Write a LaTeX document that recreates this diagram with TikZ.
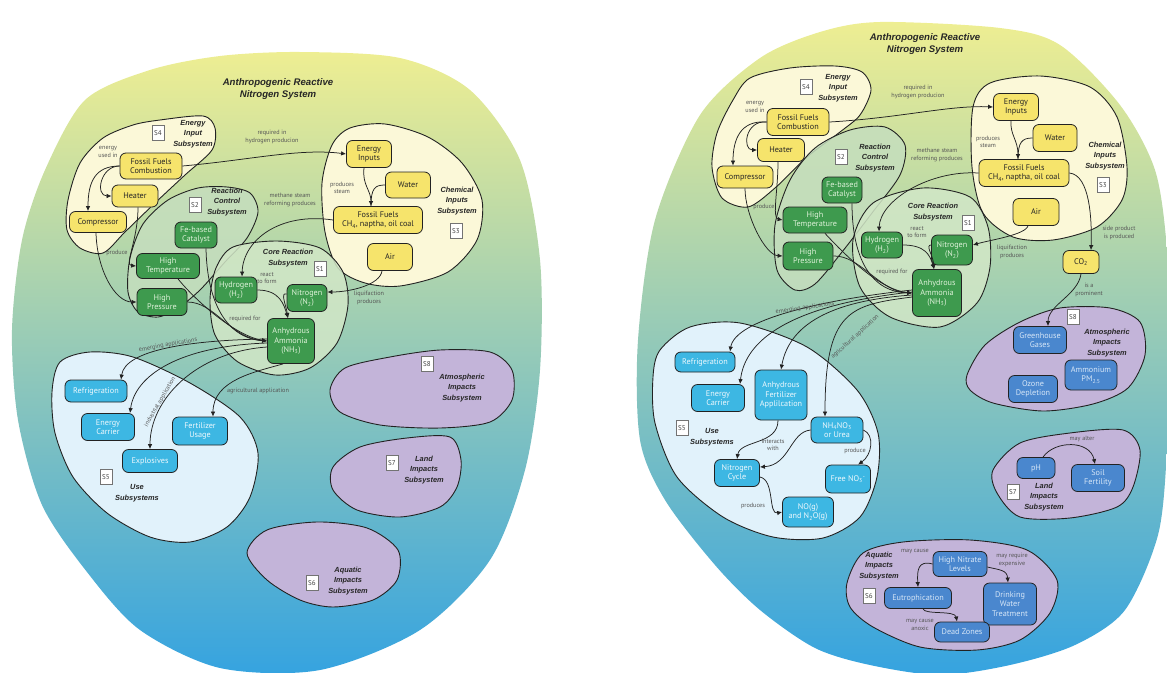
\documentclass[tikz,border=0pt]{standalone}
\usepackage{fontspec}
\setmainfont{PT Sans}
\newfontfamily\arialbi{Liberation Sans}
\usetikzlibrary{arrows.meta}

\definecolor{skytop}{HTML}{EEEE92}
\definecolor{skymid}{HTML}{A0C9B6}
\definecolor{skybot}{HTML}{35A3E0}
\definecolor{cream}{HTML}{FBF8D8}
\definecolor{ctlgreen}{HTML}{C5DEBE}
\definecolor{coregreen}{HTML}{D2E7C7}
\definecolor{usefill}{HTML}{E1F2FB}
\definecolor{impact}{HTML}{C3B4D9}
\definecolor{ynode}{HTML}{F6E46C}
\definecolor{gnode}{HTML}{3E9A4E}
\definecolor{gtext}{HTML}{DDF1D8}
\definecolor{cnode}{HTML}{3DB7E3}
\definecolor{ctext}{HTML}{EEF8FD}
\definecolor{bnode}{HTML}{4A87CE}
\definecolor{btext}{HTML}{D6E6F7}
\definecolor{inkline}{HTML}{222222}
\definecolor{labelgray}{HTML}{555555}

\newcommand\ndfont{\fontsize{8.2}{9.4}\selectfont}
\newcommand\lbfont{\fontsize{6.2}{7.2}\selectfont}
\newcommand\sbfont{\arialbi\bfseries\itshape\fontsize{7.4}{10.5}\selectfont}
\newcommand\ttlfont{\arialbi\bfseries\itshape\fontsize{9.6}{12.5}\selectfont}
\newcommand\sxfont{\fontsize{7}{8}\selectfont}

\tikzset{
  box/.style={draw=inkline, line width=0.8pt, rounded corners=6pt, align=center, font=\ndfont, inner sep=1.5pt},
  ybox/.style={box, fill=ynode, text=black!85},
  gbox/.style={box, fill=gnode, text=gtext},
  cbox/.style={box, fill=cnode, text=ctext},
  bbox/.style={box, fill=bnode, text=btext},
  sub/.style={font=\sbfont, align=center, text=black!85},
  lbl/.style={font=\lbfont, text=labelgray, align=center, inner sep=0.5pt},
  sbox/.style={draw=black!55, fill=white, font=\sxfont, inner sep=1pt, minimum width=12pt, minimum height=15pt, text=black!75},
  arr/.style={-{Latex[length=5pt,width=4.5pt]}, line width=0.75pt, draw=inkline},
  ln/.style={line width=0.75pt, draw=inkline},
  blob/.style={draw=inkline, line width=0.9pt},
  ttl/.style={font=\ttlfont, align=center, text=black!85},
}

\begin{document}
\begin{tikzpicture}[x=1pt,y=-1pt]
\useasboundingbox (0,0) rectangle (1167,672);

% ---------- outer system shapes ----------
\shade[top color=skytop, middle color=skymid, bottom color=skybot]
  plot[smooth cycle] coordinates {(300,52) (400,58) (470,90) (520,160) (540,260) (540,370) (525,470) (490,560) (420,630) (320,670) (220,668) (140,630) (87,572) (42,505) (18,420) (12,330) (22,240) (45,170) (85,100) (150,70) (220,56)};
\shade[top color=skytop, middle color=skymid, bottom color=skybot]
  plot[smooth cycle] coordinates {(880,22) (1000,28) (1060,45) (1120,105) (1155,170) (1167,250) (1170,350) (1167,450) (1158,535) (1125,610) (1075,645) (1010,665) (940,675) (870,665) (815,648) (760,610) (715,565) (665,500) (640,440) (638,340) (655,220) (700,115) (760,58) (820,32)};

\node[ttl] (titleL) at (278,89) {Anthropogenic Reactive\\Nitrogen System};
\node[ttl] (titleR) at (925,44) {Anthropogenic Reactive\\Nitrogen System};

% ---------- left: subsystem regions ----------
\draw[blob, fill=cream] plot[smooth cycle] coordinates {(160,120) (203,116) (215,128) (212,150) (185,175) (155,203) (125,232) (103,253) (80,248) (67,230) (68,200) (80,163) (103,138) (133,125)};
\draw[blob, fill=ctlgreen, fill opacity=0.85] plot[smooth cycle] coordinates {(227,187) (250,193) (258,212) (247,238) (225,262) (200,290) (178,308) (158,317) (138,312) (128,292) (130,258) (143,224) (168,200) (198,188)};
\draw[blob, fill=cream] plot[smooth cycle] coordinates {(350,128) (385,124) (428,137) (462,163) (482,200) (477,240) (448,272) (400,286) (365,283) (338,268) (325,232) (322,183) (332,145)};
\draw[blob, fill=coregreen, fill opacity=0.85] plot[smooth cycle] coordinates {(233,247) (277,241) (320,248) (343,272) (348,305) (337,343) (310,368) (275,375) (238,362) (215,335) (210,300) (216,268)};
\draw[blob, fill=usefill] plot[smooth cycle] coordinates {(60,362) (90,352) (133,357) (190,383) (240,417) (258,453) (250,497) (227,527) (190,542) (150,537) (107,513) (73,477) (55,433) (52,392)};
\draw[blob, fill=impact] plot[smooth cycle] coordinates {(330,390) (345,368) (390,357) (440,350) (490,352) (512,370) (512,400) (490,422) (440,428) (380,425) (340,412)};
\draw[blob, fill=impact] plot[smooth cycle] coordinates {(333,467) (360,447) (407,438) (450,437) (461,460) (457,487) (440,507) (400,517) (357,510) (333,490)};
\draw[blob, fill=impact] plot[smooth cycle] coordinates {(247,553) (267,530) (317,522) (367,528) (398,550) (397,580) (373,600) (333,607) (300,600) (267,580)};

\node[sub] (eisL) at (193,134) {Energy\\Input\\Subsystem};
\node[sbox] (s4L) at (158,133) {S4};
\node[sub] (rcsL) at (227,202) {Reaction\\Control\\Subsystem};
\node[sbox] (s2L) at (195,205) {S2};
\node[sub] (cisL) at (457,201) {Chemical\\Inputs\\Subsystem};
\node[sbox] (s3L) at (456,231) {S3};
\node[sub] (crsL) at (288,258) {Core Reaction\\Subsystem};
\node[sbox] (s1L) at (320,269) {S1};
\node[sub] (usL) at (137,493) {Use\\Subsystems};
\node[sbox] (s5L) at (106,477) {S5};
\node[sbox] (s8L) at (427,364) {S8};
\node[sub] (aisL) at (462,388) {Atmospheric\\Impacts\\Subsystem};
\node[sbox] (s7L) at (392,463) {S7};
\node[sub] (lisL) at (424,470) {Land\\Impacts\\Subsystem};
\node[sbox] (s6L) at (312,583) {S6};
\node[sub] (qisL) at (348,581) {Aquatic\\Impacts\\Subsystem};

% ---------- left: components ----------
\node[ybox, minimum width=62pt, minimum height=26pt] (ffcL) at (151,166) {Fossil Fuels\\Combustion};
\node[ybox, minimum width=46pt, minimum height=22pt] (heatL) at (135,196) {Heater};
\node[ybox, minimum width=57pt, minimum height=21pt] (compL) at (98,222) {Compressor};
\node[gbox, minimum width=42pt, minimum height=26pt] (catL) at (196,235) {Fe-based\\Catalyst};
\node[gbox, minimum width=63pt, minimum height=25pt] (htL) at (168,266) {High\\Temperature};
\node[gbox, minimum width=50pt, minimum height=27pt] (hpL) at (162,302) {High\\Pressure};
\node[ybox, minimum width=45pt, minimum height=27pt] (eiL) at (369,154) {Energy\\Inputs};
\node[ybox, minimum width=45pt, minimum height=26pt] (waterL) at (408,185) {Water};
\node[ybox, minimum width=89pt, minimum height=27pt] (ffL) at (378,220) {Fossil Fuels\\CH\textsubscript{4}, naptha, oil coal};
\node[ybox, minimum width=45pt, minimum height=27pt] (airL) at (390,257) {Air};
\node[gbox, minimum width=42pt, minimum height=26pt] (h2L) at (236,290) {Hydrogen\\(H\textsubscript{2})};
\node[gbox, minimum width=40pt, minimum height=27pt] (n2L) at (307,298) {Nitrogen\\(N\textsubscript{2})};
\node[gbox, minimum width=47pt, minimum height=45pt] (nh3L) at (291,341) {Anhydrous\\Ammonia\\(NH\textsubscript{3})};
\node[cbox, minimum width=62pt, minimum height=22pt] (refL) at (96,391) {Refrigeration};
\node[cbox, minimum width=53pt, minimum height=27pt] (ecL) at (108,427) {Energy\\Carrier};
\node[cbox, minimum width=55pt, minimum height=28pt] (fuL) at (200,431) {Fertilizer\\Usage};
\node[cbox, minimum width=55pt, minimum height=23pt] (exL) at (150,461) {Explosives};

% ---------- left: relations ----------
\draw[arr] (ffcL.west) .. controls (100,166) and (95,196) .. (heatL.west);
\draw[arr] (ffcL.west) .. controls (95,166) and (88,182) .. ([xshift=-10pt]compL.north);
\draw[arr] ([xshift=3pt]heatL.south) .. controls (138,240) and (124,265) .. (htL.west);
\draw[arr] ([xshift=-2pt]compL.south) .. controls (97,270) and (115,302) .. (hpL.west);
\draw[arr] (ffcL.east) .. controls (250,160) and (300,148) .. (eiL.west);
\draw[arr] ([xshift=-5pt]eiL.south) .. controls (362,185) and (371,190) .. ([xshift=-7pt]ffL.north);
\draw[ln] (waterL.west) .. controls (375,185) and (371,188) .. ([xshift=-7pt]ffL.north);
\draw[arr] (ffL.west) .. controls (280,212) and (243,240) .. ([xshift=6pt]h2L.north);
\draw[arr] ([xshift=-8pt]airL.south) .. controls (380,285) and (350,292) .. ([yshift=6pt]n2L.east);
\draw[arr] (h2L.east) .. controls (280,290) and (284,305) .. ([xshift=-3pt]nh3L.north);
\draw[arr] ([yshift=4pt]n2L.west) .. controls (280,292) and (286,305) .. ([xshift=-3pt]nh3L.north);
\draw[arr] ([xshift=10pt]htL.south) .. controls (195,300) and (235,336) .. (nh3L.west);
\draw[arr] (hpL.east) .. controls (215,302) and (230,338) .. (nh3L.west);
\draw[arr] ([xshift=10pt]catL.south) .. controls (207,300) and (225,338) .. (nh3L.west);
\draw[arr] ([yshift=2pt]nh3L.west) .. controls (190,340) and (125,350) .. ([xshift=25pt]refL.north);
\draw[arr] ([yshift=-2pt]nh3L.west) .. controls (180,346) and (135,375) .. ([xshift=22pt]ecL.north);
\draw[arr] ([yshift=-6pt]nh3L.west) .. controls (195,352) and (150,400) .. (exL.north);
\draw[arr] ([xshift=-8pt]nh3L.south) .. controls (255,372) and (213,380) .. ([xshift=13pt]fuL.north);

\node[lbl] (l1L) at (108,152) {energy\\used in};
\node[lbl] (l2L) at (117,253) {produce};
\node[lbl] (l3L) at (272,137) {required in\\hydrogen producion};
\node[lbl] (l4L) at (342,188) {produces\\steam};
\node[lbl] (l5L) at (290,200) {methane steam\\reforming produces};
\node[lbl] (l6L) at (369,298) {liquifaction\\produces};
\node[lbl] (l7L) at (267,278) {react\\to form};
\node[lbl] (l8L) at (245,319) {required for};
\node[lbl, rotate=10] (l9L) at (168,345) {emerging applications};
\node[lbl, rotate=60] (l10L) at (160,402) {industrial application};
\node[lbl] (l11L) at (258,391) {agricultural application};

% ---------- right: subsystem regions ----------
\draw[blob, fill=cream] plot[smooth cycle] coordinates {(750,78) (790,68) (835,66) (862,72) (871,90) (860,115) (840,132) (807,157) (775,188) (748,207) (722,198) (712,167) (717,133) (733,100)};
\draw[blob, fill=ctlgreen, fill opacity=0.85] plot[smooth cycle] coordinates {(850,130) (885,127) (905,145) (900,175) (872,213) (842,252) (815,284) (795,290) (777,270) (775,225) (790,180) (815,148)};
\draw[blob, fill=cream] plot[smooth cycle] coordinates {(973,107) (990,83) (1040,76) (1090,87) (1117,117) (1127,167) (1122,200) (1097,227) (1053,240) (1013,237) (983,213) (972,167)};
\draw[blob, fill=coregreen, fill opacity=0.85] plot[smooth cycle] coordinates {(873,203) (923,188) (970,197) (988,227) (990,267) (977,303) (940,327) (890,317) (860,287) (853,240)};
\draw[blob, fill=usefill] plot[smooth cycle] coordinates {(660,350) (690,327) (740,323) (807,347) (857,390) (878,433) (877,477) (860,517) (823,538) (773,537) (723,517) (677,477) (655,423) (653,377)};
\draw[blob, fill=impact] plot[smooth cycle] coordinates {(967,375) (985,345) (1020,322) (1060,308) (1110,308) (1140,322) (1145,355) (1128,388) (1093,404) (1043,411) (993,403) (970,390)};
\draw[blob, fill=impact] plot[smooth cycle] coordinates {(993,470) (1020,443) (1070,433) (1123,430) (1140,450) (1133,487) (1117,507) (1070,518) (1020,517) (997,493)};
\draw[blob, fill=impact] plot[smooth cycle] coordinates {(847,583) (863,553) (903,542) (970,540) (1027,550) (1057,580) (1050,613) (1020,640) (977,650) (920,647) (873,627) (850,607)};

\node[sub] (eisR) at (838,88) {Energy\\Input\\Subsystem};
\node[sbox] (s4R) at (806,87) {S4};
\node[sub] (rcsR) at (875,158) {Reaction\\Control\\Subsystem};
\node[sbox] (s2R) at (841,157) {S2};
\node[sub] (cisR) at (1105,156) {Chemical\\Inputs\\Subsystem};
\node[sbox] (s3R) at (1103,185) {S3};
\node[sub] (crsR) at (933,212) {Core Reaction\\Subsystem};
\node[sbox] (s1R) at (968,223) {S1};
\node[sub] (usR) at (712,437) {Use\\Subsystems};
\node[sbox] (s5R) at (682,428) {S5};
\node[sbox] (s8R) at (1073,317) {S8};
\node[sub] (aisR) at (1107,343) {Atmospheric\\Impacts\\Subsystem};
\node[sbox] (s7R) at (1013,492) {S7};
\node[sub] (lisR) at (1044,497) {Land\\Impacts\\Subsystem};
\node[sbox] (s6R) at (869,596) {S6};
\node[sub] (qisR) at (879,566) {Aquatic\\Impacts\\Subsystem};

% ---------- right: components ----------
\node[ybox, minimum width=62pt, minimum height=27pt] (ffcR) at (798,122) {Fossil Fuels\\Combustion};
\node[ybox, minimum width=47pt, minimum height=23pt] (heatR) at (781,150) {Heater};
\node[ybox, minimum width=56pt, minimum height=22pt] (compR) at (745,177) {Compressor};
\node[gbox, minimum width=40pt, minimum height=26pt] (catR) at (842,190) {Fe-based\\Catalyst};
\node[gbox, minimum width=64pt, minimum height=26pt] (htR) at (815,220) {High\\Temperature};
\node[gbox, minimum width=50pt, minimum height=28pt] (hpR) at (808,256) {High\\Pressure};
\node[ybox, minimum width=45pt, minimum height=27pt] (eiR) at (1016,107) {Energy\\Inputs};
\node[ybox, minimum width=44pt, minimum height=27pt] (waterR) at (1055,138) {Water};
\node[ybox, minimum width=90pt, minimum height=27pt] (ffR) at (1024,173) {Fossil Fuels\\CH\textsubscript{4}, naptha, oil coal};
\node[ybox, minimum width=46pt, minimum height=27pt] (airR) at (1036,212) {Air};
\node[gbox, minimum width=41pt, minimum height=26pt] (h2R) at (882,245) {Hydrogen\\(H\textsubscript{2})};
\node[gbox, minimum width=41pt, minimum height=30pt] (n2R) at (952,250) {Nitrogen\\(N\textsubscript{2})};
\node[gbox, minimum width=49pt, minimum height=47pt] (nh3R) at (937,293) {Anhydrous\\Ammonia\\(NH\textsubscript{3})};
\node[ybox, minimum width=36pt, minimum height=23pt] (co2R) at (1081,262) {CO\textsubscript{2}};
\node[bbox, minimum width=53pt, minimum height=27pt] (ghgR) at (1040,340) {Greenhouse\\Gases};
\node[bbox, minimum width=52pt, minimum height=30pt] (pmR) at (1091,375) {Ammonium\\PM\textsubscript{2.5}};
\node[bbox, minimum width=49pt, minimum height=27pt] (ozR) at (1033,389) {Ozone\\Depletion};
\node[bbox, minimum width=38pt, minimum height=21pt] (phR) at (1036,468) {pH};
\node[bbox, minimum width=53pt, minimum height=27pt] (soilR) at (1098,478) {Soil\\Fertility};
\node[bbox, minimum width=54pt, minimum height=25pt] (hnR) at (960,564) {High Nitrate\\Levels};
\node[bbox, minimum width=67pt, minimum height=21pt] (eutR) at (918,598) {Eutrophication};
\node[bbox, minimum width=53pt, minimum height=42pt] (dwR) at (1010,604) {Drinking\\Water\\Treatment};
\node[bbox, minimum width=55pt, minimum height=20pt] (dzR) at (962,632) {Dead Zones};
\node[cbox, minimum width=60pt, minimum height=20pt] (refR) at (705,362) {Refrigeration};
\node[cbox, minimum width=53pt, minimum height=27pt] (ecR) at (718,398) {Energy\\Carrier};
\node[cbox, minimum width=52pt, minimum height=50pt] (afaR) at (781,395) {Anhydrous\\Fertilizer\\Applilcation};
\node[cbox, minimum width=52pt, minimum height=26pt] (nhnoR) at (837,430) {NH\textsubscript{4}NO\textsubscript{3}\\or Urea};
\node[cbox, minimum width=45pt, minimum height=27pt] (ncR) at (737,473) {Nitrogen\\Cycle};
\node[cbox, minimum width=45pt, minimum height=28pt] (freeR) at (848,479) {Free NO\textsubscript{3}\textsuperscript{-}};
\node[cbox, minimum width=51pt, minimum height=30pt] (noR) at (808,512) {NO(g)\\and N\textsubscript{2}O(g)};

% ---------- right: relations ----------
\draw[arr] (ffcR.west) .. controls (745,120) and (742,150) .. (heatR.west);
\draw[arr] (ffcR.west) .. controls (740,120) and (733,140) .. ([xshift=-12pt]compR.north);
\draw[arr] ([xshift=-3pt]heatR.south) .. controls (778,190) and (772,218) .. (htR.west);
\draw[arr] (compR.south) .. controls (745,215) and (765,255) .. (hpR.west);
\draw[arr] (ffcR.east) .. controls (900,118) and (950,105) .. (eiR.west);
\draw[arr] ([xshift=-5pt]eiR.south) .. controls (1010,135) and (1018,140) .. ([xshift=-6pt]ffR.north);
\draw[ln] (waterR.west) .. controls (1022,138) and (1018,142) .. ([xshift=-6pt]ffR.north);
\draw[arr] (ffR.west) .. controls (930,170) and (880,200) .. ([xshift=-3pt]h2R.north);
\draw[arr] (ffR.east) .. controls (1090,175) and (1092,220) .. ([xshift=10pt]co2R.north);
\draw[arr] ([xshift=-8pt]airR.south) .. controls (1025,235) and (990,240) .. ([yshift=5pt]n2R.east);
\draw[arr] (h2R.east) .. controls (925,245) and (930,255) .. ([xshift=-3pt]nh3R.north);
\draw[arr] ([yshift=5pt]n2R.west) .. controls (925,245) and (933,255) .. ([xshift=-3pt]nh3R.north);
\draw[arr] ([xshift=10pt]htR.south) .. controls (845,255) and (880,290) .. (nh3R.west);
\draw[arr] (hpR.east) .. controls (860,255) and (880,292) .. (nh3R.west);
\draw[arr] ([xshift=10pt]catR.south) .. controls (852,260) and (872,292) .. (nh3R.west);
\draw[arr] (co2R.south) .. controls (1078,295) and (1048,305) .. ([xshift=8pt]ghgR.north);
\draw[arr] ([yshift=3pt]nh3R.west) .. controls (820,300) and (735,320) .. ([xshift=25pt]refR.north);
\draw[arr] ([yshift=1pt]nh3R.west) .. controls (790,305) and (745,340) .. ([xshift=22pt]ecR.north);
\draw[arr] ([yshift=-2pt]nh3R.west) .. controls (840,300) and (790,320) .. (afaR.north);
\draw[arr] ([yshift=-4pt]nh3R.west) .. controls (850,305) and (825,310) .. ([xshift=-12pt]nhnoR.north);
\draw[arr] ([xshift=-3pt]afaR.south) .. controls (778,445) and (740,440) .. (ncR.north);
\draw[arr] (nhnoR.west) .. controls (790,432) and (790,465) .. ([yshift=6pt]ncR.east);
\draw[arr] (nhnoR.east) .. controls (875,435) and (872,455) .. ([xshift=10pt]freeR.north);
\draw[arr] ([yshift=-4pt]ncR.east) .. controls (775,480) and (768,515) .. (noR.west);
\draw[arr] ([xshift=7pt]phR.north) .. controls (1055,440) and (1090,440) .. ([xshift=-3pt]soilR.north);
\draw[arr] (hnR.west) .. controls (918,560) and (917,570) .. (eutR.north);
\draw[arr] ([yshift=-3pt]hnR.east) .. controls (1000,570) and (1007,570) .. ([xshift=-2pt]dwR.north);
\draw[arr] ([xshift=5pt]eutR.south) .. controls (925,615) and (955,610) .. ([xshift=-5pt]dzR.north);

\node[lbl] (l1R) at (755,107) {energy\\used in};
\node[lbl] (l2R) at (764,207) {produce};
\node[lbl] (l3R) at (918,92) {required in\\hydrogen producion};
\node[lbl] (l4R) at (988,142) {produces\\steam};
\node[lbl] (l5R) at (937,155) {methane steam\\reforming produces};
\node[lbl] (l6R) at (1012,252) {liquifaction\\produces};
\node[lbl] (l7R) at (917,232) {react\\to form};
\node[lbl] (l8R) at (892,272) {required for};
\node[lbl] (l9R) at (1119,233) {side product\\is produced};
\node[lbl] (l10R) at (1089,290) {is a\\prominent};
\node[lbl, rotate=8] (l11R) at (805,308) {emerging applications};
\node[lbl, rotate=42] (l12R) at (855,337) {agricultural application};
\node[lbl] (l13R) at (773,445) {interacts\\with};
\node[lbl] (l14R) at (855,451) {produce};
\node[lbl] (l15R) at (753,506) {produces};
\node[lbl] (l16R) at (1082,439) {may alter};
\node[lbl] (l17R) at (915,552) {may cause};
\node[lbl] (l18R) at (1012,560) {may require\\expensive};
\node[lbl] (l19R) at (920,625) {may cause\\anoxic};
\end{tikzpicture}
\end{document}
